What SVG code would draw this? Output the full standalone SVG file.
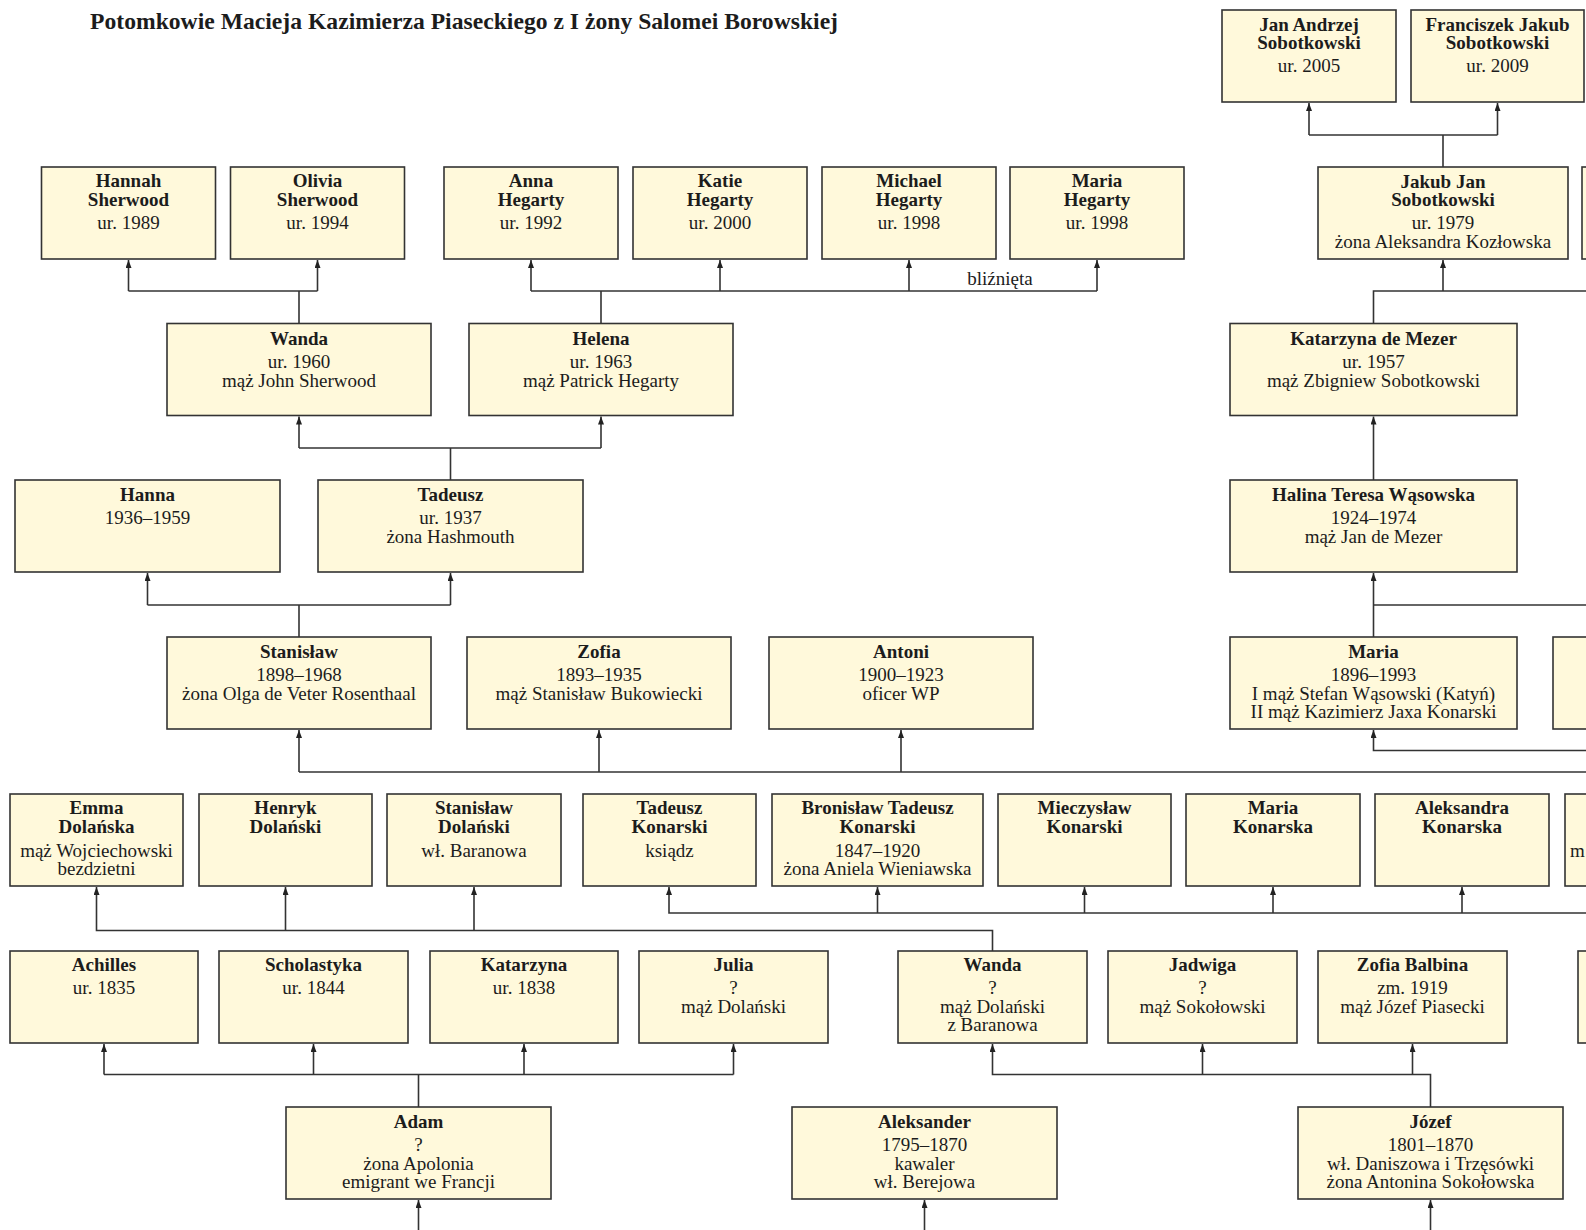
<svg xmlns="http://www.w3.org/2000/svg" width="1586" height="1230" viewBox="0 0 1586 1230">
<style>
  .bg { fill: #ffffff; }
  .box { fill: #FFF9DB; stroke: #333333; stroke-width: 1.6; }
  text { font-family: "Liberation Serif", "Times New Roman", serif; fill: #1c1c1c; }
  .n { font-size: 19px; font-weight: bold; text-anchor: middle; }
  .d { font-size: 19px; text-anchor: middle; }
  .title { font-size: 23px; font-weight: bold; }
  .c { fill: none; stroke: #333333; stroke-width: 1.6; }
  .a { fill: none; stroke: #333333; stroke-width: 1.6; marker-end: url(#arr); }
</style>
<defs>
  <marker id="arr" viewBox="0 0 8 6" refX="8" refY="3" markerWidth="8" markerHeight="6" markerUnits="userSpaceOnUse" orient="auto">
    <path d="M0,0 L8,3 L0,6 z" fill="#222222"/>
  </marker>
</defs>
<rect class="bg" x="0" y="0" width="1586" height="1230"/>

<text class="title" x="90" y="29" textLength="748" lengthAdjust="spacingAndGlyphs">Potomkowie Macieja Kazimierza Piaseckiego z I żony Salomei Borowskiej</text>

<g id="connectors">
  <path class="c" d="M1443,167 V135"/>
  <path class="c" d="M1309,135 H1497.5"/>
  <path class="a" d="M1309,135 V103"/>
  <path class="a" d="M1497.5,135 V103"/>
  <path class="c" d="M1373.5,323 V291 H1586"/>
  <path class="a" d="M1443,291 V260"/>
  <path class="a" d="M1373.5,480 V416.5"/>
  <path class="a" d="M1373.5,637 V573"/>
  <path class="c" d="M1373.5,605 H1586"/>
  <path class="a" d="M1586,750.5 H1373.5 V730"/>
  <path class="c" d="M1586,772 H299"/>
  <path class="a" d="M299,772 V730"/>
  <path class="a" d="M599,772 V730"/>
  <path class="a" d="M901,772 V730"/>
  <path class="c" d="M299,637 V605"/>
  <path class="c" d="M147.5,605 H450.5"/>
  <path class="a" d="M147.5,605 V573"/>
  <path class="a" d="M450.5,605 V573"/>
  <path class="c" d="M450.5,480 V448"/>
  <path class="c" d="M299,448 H601"/>
  <path class="a" d="M299,448 V416.5"/>
  <path class="a" d="M601,448 V416.5"/>
  <path class="c" d="M299,323 V291"/>
  <path class="c" d="M128.5,291 H317.5"/>
  <path class="a" d="M128.5,291 V260"/>
  <path class="a" d="M317.5,291 V260"/>
  <path class="c" d="M601,323 V291"/>
  <path class="c" d="M531,291 H1097"/>
  <path class="a" d="M531,291 V260"/>
  <path class="a" d="M720,291 V260"/>
  <path class="a" d="M909,291 V260"/>
  <path class="a" d="M1097,291 V260"/>
  <path class="a" d="M1586,913 H669 V887"/>
  <path class="a" d="M877.5,913 V887"/>
  <path class="a" d="M1084.5,913 V887"/>
  <path class="a" d="M1273,913 V887"/>
  <path class="a" d="M1462,913 V887"/>
  <path class="a" d="M992.5,951 V930.5 H96.5 V887"/>
  <path class="a" d="M285.5,930.5 V887"/>
  <path class="a" d="M474,930.5 V887"/>
  <path class="c" d="M418.5,1107 V1074.5"/>
  <path class="c" d="M104,1074.5 H733.5"/>
  <path class="a" d="M104,1074.5 V1044"/>
  <path class="a" d="M313.5,1074.5 V1044"/>
  <path class="a" d="M524,1074.5 V1044"/>
  <path class="a" d="M733.5,1074.5 V1044"/>
  <path class="a" d="M1430.5,1107 V1074.5 H992.5 V1044"/>
  <path class="a" d="M1202.5,1074.5 V1044"/>
  <path class="a" d="M1412.5,1074.5 V1044"/>
  <path class="a" d="M418.5,1230 V1200"/>
  <path class="a" d="M924.5,1230 V1200"/>
  <path class="a" d="M1430.5,1230 V1200"/>
  <text class="d" x="1000" y="285">bliźnięta</text>
</g>

<g id="n-jan-andrzej"><rect class="box" x="1222" y="10" width="174" height="92"/>
  <text class="n" x="1309" y="31">Jan Andrzej</text><text class="n" x="1309" y="49">Sobotkowski</text>
  <text class="d" x="1309" y="72">ur. 2005</text></g>
<g id="n-franciszek"><rect class="box" x="1411" y="10" width="173" height="92"/>
  <text class="n" x="1497.5" y="31">Franciszek Jakub</text><text class="n" x="1497.5" y="49">Sobotkowski</text>
  <text class="d" x="1497.5" y="72">ur. 2009</text></g>

<g id="n-hannah"><rect class="box" x="41.5" y="167" width="174" height="92"/>
  <text class="n" x="128.5" y="187">Hannah</text><text class="n" x="128.5" y="205.5">Sherwood</text>
  <text class="d" x="128.5" y="229">ur. 1989</text></g>
<g id="n-olivia"><rect class="box" x="230.5" y="167" width="174" height="92"/>
  <text class="n" x="317.5" y="187">Olivia</text><text class="n" x="317.5" y="205.5">Sherwood</text>
  <text class="d" x="317.5" y="229">ur. 1994</text></g>
<g id="n-anna"><rect class="box" x="444" y="167" width="174" height="92"/>
  <text class="n" x="531" y="187">Anna</text><text class="n" x="531" y="205.5">Hegarty</text>
  <text class="d" x="531" y="229">ur. 1992</text></g>
<g id="n-katie"><rect class="box" x="633" y="167" width="174" height="92"/>
  <text class="n" x="720" y="187">Katie</text><text class="n" x="720" y="205.5">Hegarty</text>
  <text class="d" x="720" y="229">ur. 2000</text></g>
<g id="n-michael"><rect class="box" x="822" y="167" width="174" height="92"/>
  <text class="n" x="909" y="187">Michael</text><text class="n" x="909" y="205.5">Hegarty</text>
  <text class="d" x="909" y="229">ur. 1998</text></g>
<g id="n-maria-h"><rect class="box" x="1010" y="167" width="174" height="92"/>
  <text class="n" x="1097" y="187">Maria</text><text class="n" x="1097" y="205.5">Hegarty</text>
  <text class="d" x="1097" y="229">ur. 1998</text></g>
<g id="n-jakub"><rect class="box" x="1318" y="167" width="250" height="92"/>
  <text class="n" x="1443" y="187.5">Jakub Jan</text><text class="n" x="1443" y="205.5">Sobotkowski</text>
  <text class="d" x="1443" y="229">ur. 1979</text><text class="d" x="1443" y="247.5">żona Aleksandra Kozłowska</text></g>
<g id="n-cut-b"><rect class="box" x="1582" y="167" width="174" height="92"/></g>

<g id="n-wanda-s"><rect class="box" x="167" y="323.5" width="264" height="92"/>
  <text class="n" x="299" y="344.5">Wanda</text>
  <text class="d" x="299" y="368">ur. 1960</text><text class="d" x="299" y="386.5">mąż John Sherwood</text></g>
<g id="n-helena"><rect class="box" x="469" y="323.5" width="264" height="92"/>
  <text class="n" x="601" y="344.5">Helena</text>
  <text class="d" x="601" y="368">ur. 1963</text><text class="d" x="601" y="386.5">mąż Patrick Hegarty</text></g>
<g id="n-katarzyna-m"><rect class="box" x="1230" y="323.5" width="287" height="92"/>
  <text class="n" x="1373.5" y="344.5">Katarzyna de Mezer</text>
  <text class="d" x="1373.5" y="368">ur. 1957</text><text class="d" x="1373.5" y="386.5">mąż Zbigniew Sobotkowski</text></g>

<g id="n-hanna"><rect class="box" x="15" y="480" width="265" height="92"/>
  <text class="n" x="147.5" y="501">Hanna</text>
  <text class="d" x="147.5" y="524">1936–1959</text></g>
<g id="n-tadeusz"><rect class="box" x="318" y="480" width="265" height="92"/>
  <text class="n" x="450.5" y="501">Tadeusz</text>
  <text class="d" x="450.5" y="524">ur. 1937</text><text class="d" x="450.5" y="542.5">żona Hashmouth</text></g>
<g id="n-halina"><rect class="box" x="1230" y="480" width="287" height="92"/>
  <text class="n" x="1373.5" y="501">Halina Teresa Wąsowska</text>
  <text class="d" x="1373.5" y="524">1924–1974</text><text class="d" x="1373.5" y="542.5">mąż Jan de Mezer</text></g>

<g id="n-stanislaw"><rect class="box" x="167" y="637" width="264" height="92"/>
  <text class="n" x="299" y="658">Stanisław</text>
  <text class="d" x="299" y="681">1898–1968</text><text class="d" x="299" y="699.5">żona Olga de Veter Rosenthaal</text></g>
<g id="n-zofia"><rect class="box" x="467" y="637" width="264" height="92"/>
  <text class="n" x="599" y="658">Zofia</text>
  <text class="d" x="599" y="681">1893–1935</text><text class="d" x="599" y="699.5">mąż Stanisław Bukowiecki</text></g>
<g id="n-antoni"><rect class="box" x="769" y="637" width="264" height="92"/>
  <text class="n" x="901" y="658">Antoni</text>
  <text class="d" x="901" y="681">1900–1923</text><text class="d" x="901" y="699.5">oficer WP</text></g>
<g id="n-maria"><rect class="box" x="1230" y="637" width="287" height="92"/>
  <text class="n" x="1373.5" y="658">Maria</text>
  <text class="d" x="1373.5" y="681">1896–1993</text>
  <text class="d" x="1373.5" y="699.5">I mąż Stefan Wąsowski (Katyń)</text>
  <text class="d" x="1373.5" y="718">II mąż Kazimierz Jaxa Konarski</text></g>
<g id="n-cut-e"><rect class="box" x="1553" y="637" width="265" height="92"/></g>

<g id="n-emma"><rect class="box" x="10" y="794" width="173" height="92"/>
  <text class="n" x="96.5" y="814">Emma</text><text class="n" x="96.5" y="832.5">Dolańska</text>
  <text class="d" x="96.5" y="856.5">mąż Wojciechowski</text><text class="d" x="96.5" y="874.5">bezdzietni</text></g>
<g id="n-henryk"><rect class="box" x="199" y="794" width="173" height="92"/>
  <text class="n" x="285.5" y="814">Henryk</text><text class="n" x="285.5" y="832.5">Dolański</text></g>
<g id="n-stanislaw-d"><rect class="box" x="387" y="794" width="174" height="92"/>
  <text class="n" x="474" y="814">Stanisław</text><text class="n" x="474" y="832.5">Dolański</text>
  <text class="d" x="474" y="856.5">wł. Baranowa</text></g>
<g id="n-tadeusz-k"><rect class="box" x="583" y="794" width="173" height="92"/>
  <text class="n" x="669.5" y="814">Tadeusz</text><text class="n" x="669.5" y="832.5">Konarski</text>
  <text class="d" x="669.5" y="856.5">ksiądz</text></g>
<g id="n-bronislaw"><rect class="box" x="772" y="794" width="211" height="92"/>
  <text class="n" x="877.5" y="814">Bronisław Tadeusz</text><text class="n" x="877.5" y="832.5">Konarski</text>
  <text class="d" x="877.5" y="856.5">1847–1920</text><text class="d" x="877.5" y="874.5">żona Aniela Wieniawska</text></g>
<g id="n-mieczyslaw"><rect class="box" x="998" y="794" width="173" height="92"/>
  <text class="n" x="1084.5" y="814">Mieczysław</text><text class="n" x="1084.5" y="832.5">Konarski</text></g>
<g id="n-maria-k"><rect class="box" x="1186" y="794" width="174" height="92"/>
  <text class="n" x="1273" y="814">Maria</text><text class="n" x="1273" y="832.5">Konarska</text></g>
<g id="n-aleksandra"><rect class="box" x="1375" y="794" width="174" height="92"/>
  <text class="n" x="1462" y="814">Aleksandra</text><text class="n" x="1462" y="832.5">Konarska</text></g>
<g id="n-cut-f"><rect class="box" x="1565" y="794" width="173" height="92"/>
  <text class="d" x="1570" y="856.5" style="text-anchor:start">m</text></g>

<g id="n-achilles"><rect class="box" x="10" y="951" width="188" height="92"/>
  <text class="n" x="104" y="971">Achilles</text>
  <text class="d" x="104" y="994">ur. 1835</text></g>
<g id="n-scholastyka"><rect class="box" x="219" y="951" width="189" height="92"/>
  <text class="n" x="313.5" y="971">Scholastyka</text>
  <text class="d" x="313.5" y="994">ur. 1844</text></g>
<g id="n-katarzyna"><rect class="box" x="430" y="951" width="188" height="92"/>
  <text class="n" x="524" y="971">Katarzyna</text>
  <text class="d" x="524" y="994">ur. 1838</text></g>
<g id="n-julia"><rect class="box" x="639" y="951" width="189" height="92"/>
  <text class="n" x="733.5" y="971">Julia</text>
  <text class="d" x="733.5" y="994">?</text><text class="d" x="733.5" y="1012.5">mąż Dolański</text></g>
<g id="n-wanda-d"><rect class="box" x="898" y="951" width="189" height="92"/>
  <text class="n" x="992.5" y="971">Wanda</text>
  <text class="d" x="992.5" y="994">?</text><text class="d" x="992.5" y="1012.5">mąż Dolański</text>
  <text class="d" x="992.5" y="1031">z Baranowa</text></g>
<g id="n-jadwiga"><rect class="box" x="1108" y="951" width="189" height="92"/>
  <text class="n" x="1202.5" y="971">Jadwiga</text>
  <text class="d" x="1202.5" y="994">?</text><text class="d" x="1202.5" y="1012.5">mąż Sokołowski</text></g>
<g id="n-zofia-b"><rect class="box" x="1318" y="951" width="189" height="92"/>
  <text class="n" x="1412.5" y="971">Zofia Balbina</text>
  <text class="d" x="1412.5" y="994">zm. 1919</text><text class="d" x="1412.5" y="1012.5">mąż Józef Piasecki</text></g>
<g id="n-cut-g"><rect class="box" x="1578" y="951" width="188" height="92"/></g>

<g id="n-adam"><rect class="box" x="286" y="1107" width="265" height="92"/>
  <text class="n" x="418.5" y="1128">Adam</text>
  <text class="d" x="418.5" y="1151">?</text><text class="d" x="418.5" y="1169.5">żona Apolonia</text>
  <text class="d" x="418.5" y="1188">emigrant we Francji</text></g>
<g id="n-aleksander"><rect class="box" x="792" y="1107" width="265" height="92"/>
  <text class="n" x="924.5" y="1128">Aleksander</text>
  <text class="d" x="924.5" y="1151">1795–1870</text><text class="d" x="924.5" y="1169.5">kawaler</text>
  <text class="d" x="924.5" y="1188">wł. Berejowa</text></g>
<g id="n-jozef"><rect class="box" x="1298" y="1107" width="265" height="92"/>
  <text class="n" x="1430.5" y="1128">Józef</text>
  <text class="d" x="1430.5" y="1151">1801–1870</text><text class="d" x="1430.5" y="1169.5">wł. Daniszowa i Trzęsówki</text>
  <text class="d" x="1430.5" y="1188">żona Antonina Sokołowska</text></g>
</svg>
